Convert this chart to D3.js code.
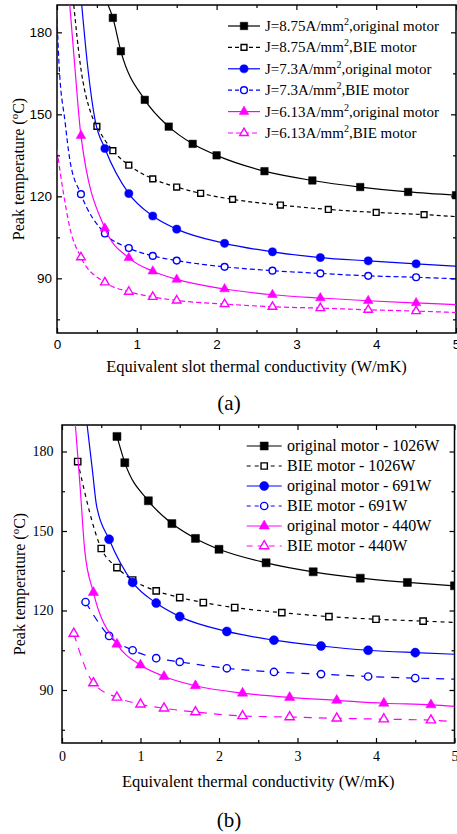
<!DOCTYPE html>
<meta charset="utf-8">
<script src="https://d3js.org/d3.v7.min.js"></script>
<style>
  body { margin: 0; background: #fff; }
  text { fill: #000; }
</style>
<div id="chart"></div>
<script>
// ---- data ----
// panel (a): slot thermal conductivity (W/mK) vs peak temperature (oC)
var kA1 = [0.7, 0.8, 1.1, 1.4, 1.7, 2.0, 2.6, 3.2, 3.8, 4.4, 5.0];
var tA1 = [185.3, 173.1, 155.3, 145.5, 139.2, 135.0, 129.2, 125.8, 123.4, 121.6, 120.4];
var kA2 = [0.5, 0.7, 0.9, 1.2, 1.5, 1.8, 2.2, 2.8, 3.4, 4.0, 4.6];
var tA2 = [145.6, 136.7, 131.4, 126.4, 123.4, 121.1, 118.9, 116.8, 115.2, 114.1, 113.3];
var kA3 = [0.6, 0.9, 1.2, 1.5, 2.1, 2.7, 3.3, 3.9, 4.5];
var tA3 = [137.5, 121.0, 112.8, 108.0, 102.8, 99.7, 97.6, 96.4, 95.3];
var kA4 = [0.3, 0.6, 0.9, 1.2, 1.5, 2.1, 2.7, 3.3, 3.9, 4.5];
var tA4 = [120.8, 106.4, 101.1, 98.2, 96.5, 94.2, 92.8, 91.8, 90.9, 90.4];
var tA5 = [142.2, 108.3, 97.5, 92.6, 89.6, 86.1, 84.0, 82.8, 81.8, 81.0];
var tA6 = [97.7, 88.5, 85.1, 83.2, 81.9, 80.6, 79.6, 79.1, 78.5, 78.0];
// where the fitted curves run beyond the markers
var headA = [[[0.64, 190]], [[0.21, 190], [0.29, 168.7], [0.43, 150]], [[0.31, 190], [0.38, 168.7], [0.48, 147.5]],
             [[0.0, 185], [0.025, 168.7], [0.10, 147.5], [0.16, 133.5]], [[0.16, 190], [0.22, 168.7]],
             [[0.0, 137], [0.08, 121.3], [0.16, 108.6]]];
var tailA = [[], [[5, 112.6]], [[5, 94.4]], [[5, 89.8]], [[5, 80.4]], [[5, 77.5]]];
var currentA = ["8.75", "8.75", "7.3", "7.3", "6.13", "6.13"];
var motorA = ["original motor", "BIE motor", "original motor", "BIE motor", "original motor", "BIE motor"];

// panel (b): equivalent thermal conductivity (W/mK) vs peak temperature (oC)
var kB1 = [0.7, 0.8, 1.1, 1.4, 1.7, 2.0, 2.6, 3.2, 3.8, 4.4, 5.0];
var tB1 = [185.7, 175.8, 161.4, 152.8, 147.2, 143.1, 138.0, 134.6, 132.2, 130.6, 129.3];
var kB2 = [0.2, 0.5, 0.7, 0.9, 1.2, 1.5, 1.8, 2.2, 2.8, 3.4, 4.0, 4.6];
var tB2 = [176.2, 143.4, 136.2, 131.5, 127.4, 124.9, 123.0, 121.1, 119.2, 117.7, 116.7, 116.0];
var kB3 = [0.6, 0.9, 1.2, 1.5, 2.1, 2.7, 3.3, 3.9, 4.5];
var tB3 = [146.9, 130.6, 122.8, 117.7, 112.1, 108.8, 106.6, 105.0, 104.1];
var kB4 = [0.3, 0.6, 0.9, 1.2, 1.5, 2.1, 2.7, 3.3, 3.9, 4.5];
var tB4 = [123.2, 110.4, 105.0, 102.0, 100.6, 98.2, 96.8, 96.0, 95.1, 94.5];
var kB5 = [0.4, 0.7, 1.0, 1.3, 1.7, 2.3, 2.9, 3.5, 4.1, 4.7];
var tB5 = [126.8, 107.3, 99.4, 95.1, 91.6, 88.8, 87.2, 86.1, 85.0, 84.4];
var kB6 = [0.15, 0.4, 0.7, 1.0, 1.3, 1.7, 2.3, 2.9, 3.5, 4.1, 4.7];
var tB6 = [111.3, 92.6, 87.2, 84.6, 83.1, 81.7, 80.2, 79.8, 79.3, 79.0, 78.6];
var headB = [[], [], [[0.32, 190], [0.39, 172.2], [0.44, 159.6]], [], [[0.17, 190], [0.23, 167], [0.29, 142.6]], []];
var tailB = [[], [[5, 115.5]], [[5, 103.5]], [[5, 94.1]], [[5, 83.8]], [[5, 78.1]]];
var labelsB = ["original motor - 1026W", "BIE motor - 1026W", "original motor - 691W",
               "BIE motor - 691W", "original motor - 440W", "BIE motor - 440W"];

var xTicks = [0, 1, 2, 3, 4, 5];
var xMinor = [0.5, 1.5, 2.5, 3.5, 4.5];
var yTicks = [90, 120, 150, 180];
var yMinor = [75, 105, 135, 165];

var colors = ["#000000", "#000000", "#0000ff", "#0000ff", "#ff00ff", "#ff00ff"];
var shapes = ["square", "square", "circle", "circle", "triangle", "triangle"];
var serif = "'Liberation Serif', 'Times New Roman', serif";
var sans = "'Liberation Sans', Arial, sans-serif";

var svg = d3.select("#chart").append("svg")
    .attr("width", 457)
    .attr("height", 834);

function drawPanel(p) {
  var x = d3.scaleLinear().domain([0, 5]).range([p.left, p.right]);
  var y = d3.scaleLinear().domain([70, 190]).range([p.bottom, p.top]);
  var g = svg.append("g");

  g.append("clipPath").attr("id", p.id + "clip")
    .append("rect")
      .attr("x", p.left).attr("y", p.top)
      .attr("width", p.right - p.left).attr("height", p.bottom - p.top);

  // ticks point inwards on all four sides
  var axes = [
    [d3.axisBottom(x).tickValues(xTicks).tickSize(-5).tickPadding(p.xPad).tickFormat(d3.format("d")), "translate(0," + p.bottom + ")"],
    [d3.axisBottom(x).tickValues(xMinor).tickSize(-3).tickFormat(""), "translate(0," + p.bottom + ")"],
    [d3.axisTop(x).tickValues(xTicks).tickSize(-5).tickFormat(""), "translate(0," + p.top + ")"],
    [d3.axisTop(x).tickValues(xMinor).tickSize(-3).tickFormat(""), "translate(0," + p.top + ")"],
    [d3.axisLeft(y).tickValues(yTicks).tickSize(-5).tickPadding(p.yPad), "translate(" + p.left + ",0)"],
    [d3.axisLeft(y).tickValues(yMinor).tickSize(-3).tickFormat(""), "translate(" + p.left + ",0)"],
    [d3.axisRight(y).tickValues(yTicks).tickSize(-5).tickFormat(""), "translate(" + p.right + ",0)"],
    [d3.axisRight(y).tickValues(yMinor).tickSize(-3).tickFormat(""), "translate(" + p.right + ",0)"]
  ];
  axes.forEach(function(a) {
    var ax = g.append("g").attr("transform", a[1]).call(a[0]);
    ax.select(".domain").remove();
    ax.selectAll("line").attr("stroke", "#000").attr("stroke-width", 1.2);
    ax.selectAll("text").attr("font-family", p.tickFont).attr("font-size", p.tickSize).attr("fill", "#000");
  });

  g.append("rect")
    .attr("x", p.left).attr("y", p.top)
    .attr("width", p.right - p.left).attr("height", p.bottom - p.top)
    .attr("fill", "none").attr("stroke", "#000").attr("stroke-width", 1.5);

  var line = d3.line()
    .x(function(d) { return x(d[0]); })
    .y(function(d) { return y(d[1]); })
    .curve(d3.curveMonotoneX);

  var plot = g.append("g").attr("clip-path", "url(#" + p.id + "clip)");

  p.series.forEach(function(s, i) {
    var pts = s.k.map(function(k, j) { return [k, s.t[j]]; });
    plot.append("path")
      .attr("d", line(s.head.concat(pts).concat(s.tail)))
      .attr("fill", "none")
      .attr("stroke", colors[i])
      .attr("stroke-width", 1.2)
      .attr("stroke-dasharray", i % 2 ? p.dash[i] : null);

    plot.selectAll(".m" + i)
      .data(pts)
      .enter()
      .append("path")
        .attr("transform", function(d) { return "translate(" + x(d[0]) + "," + y(d[1]) + ")"; })
        .call(marker, i, p);
  });

  // legend
  p.series.forEach(function(s, i) {
    var ly = p.legY + i * p.legStep;
    var lg = g.append("g");
    lg.append("line")
      .attr("x1", p.legX0).attr("x2", p.legX1).attr("y1", ly).attr("y2", ly)
      .attr("stroke", colors[i]).attr("stroke-width", 1.2)
      .attr("stroke-dasharray", i % 2 ? p.legDash[i] : null);
    lg.append("path")
      .attr("transform", "translate(" + (p.legX0 + p.legX1) / 2 + "," + ly + ")")
      .call(marker, i, p);
    var t = lg.append("text")
      .attr("x", p.legText).attr("y", ly + 5)
      .attr("font-family", serif).attr("font-size", p.legSize);
    p.label(t, i);
  });

  // axis titles
  var yl = g.append("text")
    .attr("transform", "translate(" + p.yLabX + "," + (p.top + p.bottom) / 2 + ") rotate(-90)")
    .attr("text-anchor", "middle")
    .attr("font-family", serif).attr("font-size", 16);
  yl.append("tspan").text("Peak temperature (");
  yl.append("tspan").attr("font-size", 11).attr("dy", -6).text("o");
  yl.append("tspan").attr("dy", 6).text("C)");

  g.append("text")
    .attr("x", (p.left + p.right) / 2).attr("y", p.xLabY)
    .attr("text-anchor", "middle")
    .attr("font-family", serif).attr("font-size", 16.5)
    .text(p.xTitle);

  g.append("text")
    .attr("x", 229).attr("y", p.tagY)
    .attr("text-anchor", "middle")
    .attr("font-family", serif).attr("font-size", 21)
    .text(p.tag);
}

function marker(sel, i, p) {
  var filled = i % 2 === 0;
  var type = shapes[i] === "square" ? d3.symbolSquare : shapes[i] === "circle" ? d3.symbolCircle : d3.symbolTriangle;
  var size = p.sizes[i];
  sel.attr("d", d3.symbol().type(type).size(size))
    .attr("fill", filled ? colors[i] : "#fff")
    .attr("stroke", colors[i])
    .attr("stroke-width", filled ? 0.5 : 1.4);
}

drawPanel({
  id: "a", left: 57, right: 456, top: 5, bottom: 333,
  xPad: 6.5, yPad: 5, tickFont: sans, tickSize: 13.5,
  dash: [null, "4,3", null, "5,3", null, "5,3"],
  legDash: [null, "4,3", null, "4,3", null, "5,3"],
  sizes: [56, 34, 52, 36, 40, 32],
  series: [
    {k: kA1, t: tA1, head: headA[0], tail: tailA[0]},
    {k: kA2, t: tA2, head: headA[1], tail: tailA[1]},
    {k: kA3, t: tA3, head: headA[2], tail: tailA[2]},
    {k: kA4, t: tA4, head: headA[3], tail: tailA[3]},
    {k: kA4, t: tA5, head: headA[4], tail: tailA[4]},
    {k: kA4, t: tA6, head: headA[5], tail: tailA[5]}
  ],
  legX0: 228, legX1: 260, legText: 265, legY: 26, legStep: 21.4, legSize: 15,
  label: function(t, i) {
    t.append("tspan").text("J=" + currentA[i] + "A/mm");
    t.append("tspan").attr("font-size", 10).attr("dy", -6).text("2");
    t.append("tspan").attr("dy", 6).text("," + motorA[i]);
  },
  yLabX: 23.5, xLabY: 372, xTitle: "Equivalent slot thermal conductivity (W/mK)",
  tagY: 410, tag: "(a)"
});

drawPanel({
  id: "b", left: 62, right: 454.5, top: 425, bottom: 743,
  xPad: 8.5, yPad: 8.5, tickFont: serif, tickSize: 14,
  dash: [null, "4,4", null, "8,7", null, "8,7"],
  legDash: [null, "4,4", null, "4,4", null, "6,5"],
  sizes: [64, 40, 64, 42, 46, 38],
  series: [
    {k: kB1, t: tB1, head: headB[0], tail: tailB[0]},
    {k: kB2, t: tB2, head: headB[1], tail: tailB[1]},
    {k: kB3, t: tB3, head: headB[2], tail: tailB[2]},
    {k: kB4, t: tB4, head: headB[3], tail: tailB[3]},
    {k: kB5, t: tB5, head: headB[4], tail: tailB[4]},
    {k: kB6, t: tB6, head: headB[5], tail: tailB[5]}
  ],
  legX0: 246.7, legX1: 281.7, legText: 287, legY: 446, legStep: 20, legSize: 16,
  label: function(t, i) { t.text(labelsB[i]); },
  yLabX: 25, xLabY: 787, xTitle: "Equivalent thermal conductivity (W/mK)",
  tagY: 827, tag: "(b)"
});
</script>
